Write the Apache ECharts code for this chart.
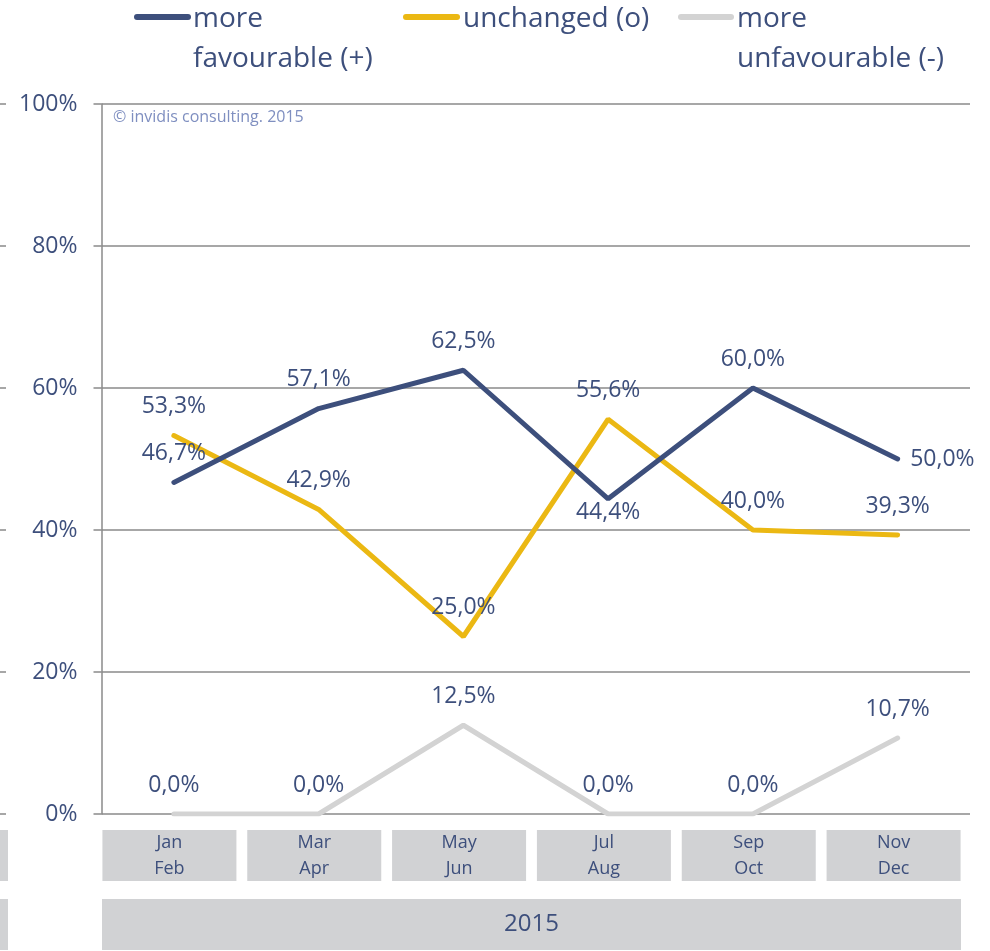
<!DOCTYPE html>
<html>
<head>
<meta charset="utf-8">
<script src="https://cdn.jsdelivr.net/npm/echarts@6/dist/echarts.min.js"></script>
<style>
html,body{margin:0;padding:0;background:#fff;}
#main{width:990px;height:951px;}
</style>
</head>
<body>
<div id="main"></div>
<script>
// periods (two months each) and survey shares in percent
var periods = ['Jan\nFeb', 'Mar\nApr', 'May\nJun', 'Jul\nAug', 'Sep\nOct', 'Nov\nDec'];
var years = ['2015'];
var favourable = [46.7, 57.1, 62.5, 44.4, 60.0, 50.0];
var unchanged = [53.3, 42.9, 25.0, 55.6, 40.0, 39.3];
var unfavourable = [0.0, 0.0, 12.5, 0.0, 0.0, 10.7];
var yTicks = [0, 20, 40, 60, 80, 100];

var navy = '#3D4F7C';
var yellow = '#EBB813';
var light = '#D3D3D3';
var gridGrey = '#8A8A8A';
var boxGrey = '#D1D2D4';
var font = '"Open Sans", sans-serif';

var chartDom = document.getElementById('main');
var myChart = echarts.init(chartDom);

function pct(p) {
  return p.value.toFixed(1).replace('.', ',') + '%';
}

// label placement per point, like in the original chart
var favPos = ['top', 'top', 'top', 'bottom', 'top', 'right'];
var favDist = { top: 17, bottom: 2, right: 12 };

var labelStyle = { show: true, position: 'top', distance: 17, color: navy, fontSize: 23, formatter: pct, fontFamily: font };

var option = {
  animation: false,
  textStyle: { fontFamily: font },
  grid: [
    { left: 101.5, right: 20, top: 104, bottom: 137 },
    // the grey label boxes sit a few pixels left of the plot's categories
    { left: 97, right: 24, top: 104, bottom: 137 }
  ],
  xAxis: [
    {
      type: 'category',
      gridIndex: 0,
      data: periods,
      boundaryGap: true,
      axisLine: { show: false },
      axisTick: { show: false },
      axisLabel: { show: false }
    },
    {
      type: 'category',
      gridIndex: 1,
      data: periods,
      axisLine: { show: false },
      axisTick: { show: false },
      axisLabel: {
        margin: 16,
        color: navy,
        fontSize: 18,
        lineHeight: 26,
        width: 134,
        height: 51,
        align: 'center',
        backgroundColor: boxGrey,
        fontFamily: font
      }
    },
    {
      type: 'category',
      gridIndex: 1,
      data: years,
      position: 'bottom',
      offset: 85,
      axisLine: { show: false },
      axisTick: { show: false },
      axisLabel: {
        margin: 0,
        color: navy,
        fontSize: 24,
        lineHeight: 51,
        width: 859,
        height: 51,
        align: 'center',
        backgroundColor: boxGrey,
        fontFamily: font
      }
    }
  ],
  yAxis: [
    {
      type: 'value',
      gridIndex: 0,
      min: 0,
      max: 100,
      interval: 20,
      axisLine: { show: true, lineStyle: { color: gridGrey, width: 1.5 } },
      axisTick: { show: true, length: 8, lineStyle: { color: gridGrey, width: 1.5 } },
      axisLabel: {
        margin: 24,
        color: navy,
        fontSize: 23,
        fontFamily: font,
        formatter: function (v) { return yTicks.indexOf(v) >= 0 ? v + '%' : ''; }
      },
      splitLine: { lineStyle: { color: gridGrey, width: 1.5 } }
    },
    {
      type: 'value',
      gridIndex: 1,
      show: false,
      min: 0,
      max: 100
    }
  ],
  series: [
    {
      name: 'more favourable (+)',
      type: 'line',
      xAxisIndex: 0,
      yAxisIndex: 0,
      data: favourable.map(function (v, i) {
        return { value: v, label: { position: favPos[i], distance: favDist[favPos[i]] } };
      }),
      symbol: 'circle',
      symbolSize: 1,
      lineStyle: { color: navy, width: 5, cap: 'round' },
      itemStyle: { color: navy },
      label: labelStyle,
      z: 3
    },
    {
      name: 'unchanged (o)',
      type: 'line',
      xAxisIndex: 0,
      yAxisIndex: 0,
      data: unchanged,
      symbol: 'circle',
      symbolSize: 1,
      lineStyle: { color: yellow, width: 5, cap: 'round' },
      itemStyle: { color: yellow },
      label: labelStyle,
      z: 2
    },
    {
      name: 'more unfavourable (-)',
      type: 'line',
      xAxisIndex: 0,
      yAxisIndex: 0,
      data: unfavourable,
      symbol: 'circle',
      symbolSize: 1,
      lineStyle: { color: light, width: 5, cap: 'round' },
      itemStyle: { color: light },
      label: labelStyle,
      z: 1
    }
  ],
  graphic: [
    // legend
    { type: 'line', shape: { x1: 137, y1: 17, x2: 188, y2: 17 }, style: { stroke: navy, lineWidth: 6, lineCap: 'round' } },
    { type: 'text', left: 193, top: -1, style: { text: 'more\nfavourable (+)', fill: navy, font: '28px ' + font, lineHeight: 40 } },
    { type: 'line', shape: { x1: 406, y1: 17, x2: 457, y2: 17 }, style: { stroke: yellow, lineWidth: 6, lineCap: 'round' } },
    { type: 'text', left: 463, top: -1, style: { text: 'unchanged (o)', fill: navy, font: '28px ' + font, lineHeight: 40 } },
    { type: 'line', shape: { x1: 681, y1: 17, x2: 731, y2: 17 }, style: { stroke: light, lineWidth: 6, lineCap: 'round' } },
    { type: 'text', left: 737, top: -1, style: { text: 'more\nunfavourable (-)', fill: navy, font: '28px ' + font, lineHeight: 40 } },
    // copyright note
    { type: 'text', left: 113, top: 109, style: { text: '\u00a9 invidis consulting. 2015', fill: '#7F8FC0', font: '16px ' + font } },
    // cut off pieces at the left edge
    { type: 'rect', shape: { x: 0, y: 830, width: 8, height: 51 }, style: { fill: boxGrey } },
    { type: 'rect', shape: { x: 0, y: 899, width: 8, height: 51 }, style: { fill: boxGrey } },
    { type: 'line', shape: { x1: 0, y1: 104, x2: 6, y2: 104 }, style: { stroke: gridGrey, lineWidth: 1.5 } },
    { type: 'line', shape: { x1: 0, y1: 246, x2: 6, y2: 246 }, style: { stroke: gridGrey, lineWidth: 1.5 } },
    { type: 'line', shape: { x1: 0, y1: 388, x2: 6, y2: 388 }, style: { stroke: gridGrey, lineWidth: 1.5 } },
    { type: 'line', shape: { x1: 0, y1: 530, x2: 6, y2: 530 }, style: { stroke: gridGrey, lineWidth: 1.5 } },
    { type: 'line', shape: { x1: 0, y1: 672, x2: 6, y2: 672 }, style: { stroke: gridGrey, lineWidth: 1.5 } },
    { type: 'line', shape: { x1: 0, y1: 814, x2: 6, y2: 814 }, style: { stroke: gridGrey, lineWidth: 1.5 } }
  ]
};

option && myChart.setOption(option);

window.addEventListener('resize', function () {
  myChart.resize();
});
</script>
</body>
</html>
